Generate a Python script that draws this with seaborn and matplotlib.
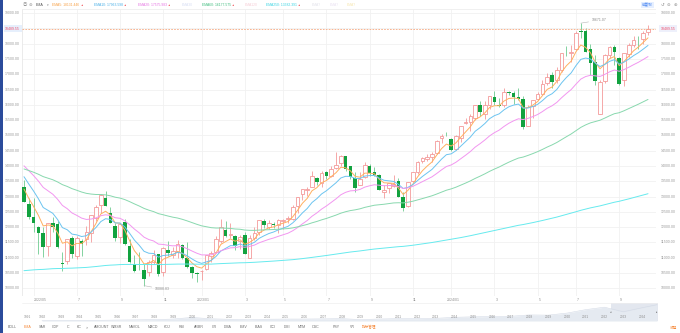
import numpy as np
import pandas as pd
import matplotlib
matplotlib.use("Agg")
import matplotlib.pyplot as plt
import seaborn as sns
from matplotlib.patches import Rectangle

sns.set_theme(style="white")
plt.rcParams['font.family'] = ['Liberation Sans', 'Noto Sans CJK SC', 'DejaVu Sans']

# ---------------- data (weekly candles, Monday dated) ----------------
first_week = "2022-04-18"
opens = [
    13319, 12767, 12329, 12012, 11802, 11382, 12125, 12102, 10830, 10907,
    11661, 11060, 11550, 11600, 11800, 12300, 12717, 12964, 12456, 12030,
    11680, 12177, 11390, 10790, 10658, 10600, 10550, 10866, 11119, 10523,
    11250, 11082, 11200, 11420, 11000, 10690, 10500,
    10562, 10636, 11057, 11180, 11545, 11910, 11740, 11700, 11550, 11740,
    11000, 11650, 11850, 12200, 12020, 12120, 12070, 12210, 12260, 12260,
    12700, 13100, 13230, 13300, 13620, 13460, 13810, 13680, 13950, 14100,
    14320, 13990, 13600, 13380, 13650, 14000, 13820, 13700, 13160, 13270,
    13350, 13500, 12980, 12700, 13500, 13800, 14150, 14240, 14290, 14420,
    14900, 15030,
    14870, 14560, 14930, 15400, 15440, 15580, 16000, 15700, 16000, 16270,
    16000, 15980, 16430, 16400, 16260, 16200, 15320, 15950, 16200, 16360,
    16700, 16990, 16810, 17140, 17710, 17700, 17830, 18400, 18430, 17810,
    17400, 15708, 16790, 17640, 17900, 17530, 16800, 17650, 17970, 18150,
    18150, 18380,
]
highs = [
    13559, 12950, 12968, 12047, 12006, 12150, 12320, 12212, 11188, 11612,
    11725, 11700, 11600, 12024, 12400, 12720, 13090, 13181, 12675, 12126,
    12128, 12270, 11603, 11088, 11176, 10800, 10940, 11250, 11138, 11365,
    11564, 11340, 11571, 11460, 11517, 10743, 10528,
    10608, 11100, 11223, 11700, 12269, 12200, 12150, 11730, 11730, 11830,
    11730, 12000, 12250, 12270, 12250, 12170, 12260, 12270, 12380, 12730,
    12990, 13260, 13300, 13830, 13650, 13840, 13830, 14000, 14450, 14360,
    14340, 14010, 13800, 13790, 14130, 14050, 13970, 13740, 13380, 13450,
    13720, 13600, 13150, 13480, 13800, 14160, 14290, 14400, 14470, 14850,
    15060, 15110,
    14900, 15020, 15320, 15580, 15700, 16000, 16110, 16130, 16300, 16450,
    16240, 16540, 16460, 16440, 16540, 16290, 16000, 16160, 16420, 16800,
    17030, 17060, 17230, 17700, 17940, 17960, 18400, 18671.07, 18520, 18000,
    17620, 16800, 17650, 17940, 17970, 17570, 17700, 18020, 18250, 18250,
    18420, 18600,
]
lows = [
    12832, 12280, 11857, 11108, 11035, 11068, 11827, 11335, 10565, 10794,
    10985, 10951, 11068, 11432, 11510, 12217, 12470, 12705, 12141, 11560,
    11481, 11408, 10817, 10546, 10595, 10088.83, 10390, 10799, 10393, 10394,
    11070, 11005, 10982, 10950, 10671, 10349, 10207,
    10265, 10600, 10855, 11152, 11499, 11690, 11660, 11260, 11300, 11130,
    10982, 11590, 11760, 11960, 11940, 11980, 11800, 11925, 12130, 12220,
    12470, 12880, 13010, 13300, 13380, 13310, 13580, 13630, 13900, 13990,
    13840, 13580, 13160, 13370, 13600, 13670, 13660, 13200, 12960, 13110,
    13300, 12980, 12543, 12660, 13470, 13750, 14100, 14150, 14140, 14400,
    14760, 14990,
    14477, 14540, 14790, 15360, 15150, 15500, 15640, 15550, 15860, 16000,
    15930, 15930, 16330, 16040, 16150, 15220, 15300, 15560, 16150, 16350,
    16650, 16560, 16700, 17060, 17600, 17410, 17800, 18200, 17720, 16990,
    16640, 15708, 16700, 17540, 17300, 16660, 16620, 17560, 17880, 17820,
    18000, 18300,
]
closes = [
    12839, 12334, 12144, 11805, 11354, 12131, 12012, 11340, 10798, 11607,
    11127, 11635, 11452, 11834, 12390, 12657, 13047, 12705, 12141, 11630,
    12112, 11448, 10867, 10575, 10652, 10321, 10859, 11102, 10475, 11323,
    11146, 11226, 11461, 11004, 10705, 10497, 10466,
    10569, 11079, 11140, 11621, 12006, 11718, 11787, 11394, 11689, 11138,
    11630, 11823, 12221, 12087, 12123, 12072, 12226, 12235, 12284, 12657,
    12975, 13240, 13259, 13689, 13492, 13787, 13660, 13918, 14032, 14316,
    13909, 13644, 13290, 13590, 14031, 13761, 13708, 13211, 13219, 13431,
    13407, 12983, 12643, 13478, 13798, 14125, 14250, 14305, 14403, 14813,
    14992, 15011,
    14524, 14972, 15310, 15455, 15628, 15990, 15775, 15996, 16274, 16085,
    15973, 16428, 16379, 16248, 16175, 15282, 15927, 16156, 16340, 16685,
    16920, 16735, 17133, 17688, 17689, 17732, 18352, 18398, 17726, 17357,
    16776, 16745, 17631, 17877, 17713, 16690, 17683, 17948, 18119, 18137,
    18342, 18489.55,
]
ema_periods = [5, 10, 20, 60, 250]
ema_seeds = [13450, 13830, 14130, 13940, 10560]      # EMA values just before the first candle
ema_names = ["EMA5", "EMA10", "EMA20", "EMA60", "EMA250"]
ema_legend_values = ["18131.446", "17963.598", "17575.983", "16177.575", "13382.391"]
last_price = 18489.55
y_ticks = list(range(10000, 19001, 500))
nav_years = list(range(1991, 2025))
nav_closes = [586, 677, 777, 752, 1052, 1291, 1570, 2193, 4069, 2471, 1950, 1336,
              2003, 2175, 2205, 2415, 2652, 1577, 2269, 2653, 2605, 3020, 4177,
              4736, 5007, 5383, 6903, 6635, 8973, 12888, 15645, 10466, 15011, 18489]
tabs = ["BOLL", "EMA", "SAR", "CDP", "IC", "KC", ">", "AMOUNT", "WMSR", "NAVOL", "MACD",
        "KDJ", "RSI", "ARBR", "CR", "DMA", "EMV", "BIAS", "CCI", "DMI", "MTM", "OSC",
        "PSY", "VR", "指标管理"]

# ---------------- frame ----------------
dates = pd.date_range(first_week, periods=len(closes), freq="W-MON")
df = pd.DataFrame({"date": dates, "open": opens, "high": highs, "low": lows, "close": closes})
df["i"] = np.arange(len(df))


def ema(values, period, seed):
    a = 2.0 / (period + 1)
    out, e = [], seed
    for v in values:
        e = a * v + (1 - a) * e
        out.append(e)
    return out


for n, p, s in zip(ema_names, ema_periods, ema_seeds):
    df[n] = ema(df["close"].tolist(), p, s)

W, H = 680, 333
fig = plt.figure(figsize=(W / 100, H / 100), dpi=100)
fig.patch.set_facecolor("white")


def fx(x):
    return x / W


def fy(y):
    return 1 - y / H


AX_L, AX_R, AX_T, AX_B = 22, 656, 9, 296
ax = fig.add_axes([fx(AX_L), fy(AX_B), (AX_R - AX_L) / W, (AX_B - AX_T) / H])
PXW = 4.8
X0 = 24
ax.set_xlim((AX_L - X0) / PXW, (AX_R - X0) / PXW)
PPU = 0.030583
ax.set_ylim(19000 - (AX_B - 13.1) / PPU, 19000 + (13.1 - AX_T) / PPU)
for s in ax.spines.values():
    s.set_visible(False)
ax.set_xticks([])
ax.set_yticks([])
ax.set_facecolor("white")

GRID = "#f1f1f1"
for v in y_ticks:
    ax.axhline(v, color=GRID, lw=0.6, zorder=0)

# month grid: first week whose Monday falls in an odd month (from May 2022)
month_pos, month_txt = [], []
prev = df["date"].iloc[0].month
for k, d in enumerate(df["date"]):
    if d.month != prev:
        prev = d.month
        if d.month % 2 == 1:
            month_pos.append(k)
            month_txt.append(f"{d.year}/{d.month:02d}" if (d.month == 1 or not month_txt) else str(d.month))
for k in month_pos:
    ax.axvline(k, color=GRID, lw=0.6, zorder=0)
ax.axvline(ax.get_xlim()[0], color="#e8e8e8", lw=0.6)
ax.axvline(ax.get_xlim()[1], color="#e8e8e8", lw=0.6)
ax.axhline(ax.get_ylim()[1], color="#eeeeee", lw=0.6)
ax.axhline(ax.get_ylim()[0], color="#eeeeee", lw=0.6)

# ---------------- candles ----------------
UP = "#f49a9a"
DOWN = "#12a23f"
DOWN_WICK = "#6fcb91"
up = df["close"] >= df["open"]
dn = ~up
ax.vlines(df["i"][up], df["low"][up], df["high"][up], color=UP, lw=0.6, zorder=2)
ax.vlines(df["i"][dn], df["low"][dn], df["high"][dn], color=DOWN_WICK, lw=0.6, zorder=2)
ax.bar(df["i"][up], (df["close"] - df["open"])[up], bottom=df["open"][up], width=0.74,
       facecolor="white", edgecolor=UP, linewidth=0.6, zorder=3)
ax.bar(df["i"][dn], (df["open"] - df["close"])[dn], bottom=df["close"][dn], width=0.74,
       color=DOWN, linewidth=0, zorder=3)

# ---------------- EMA lines ----------------
ema_colors = ["#ffb060", "#6cc4f0", "#f296f0", "#88d8ae", "#66eaee"]
for n, c in zip(ema_names, ema_colors):
    sns.lineplot(data=df, x="i", y=n, ax=ax, color=c, lw=0.7, zorder=4, legend=False)
ax.set_xlabel("")
ax.set_ylabel("")

# current price line
ax.axhline(last_price, color="#f5a77f", lw=0.6, ls=(0, (2, 1.5)), zorder=5)

# ---------------- axis labels ----------------
lx = (12.5 - AX_L) / (AX_R - AX_L)
rx = (668 - AX_L) / (AX_R - AX_L)
ytr = ax.get_yaxis_transform()
for v in y_ticks:
    if abs(v - last_price) < 300:
        continue
    for xx in (lx, rx):
        ax.text(xx, v, f"{v:.2f}", transform=ytr, ha="center", va="center",
                fontsize=2.5, color="#9a9a9a", clip_on=False)
for xx, bc in ((lx, "#e6effc"), (rx, "#eef0fb")):
    ax.text(xx, last_price, f"{last_price:.2f}", transform=ytr, ha="center", va="center",
            fontsize=2.5, color="#ef4d6a", clip_on=False,
            bbox=dict(boxstyle="square,pad=0.45", fc=bc, ec="none"))

xtr = ax.get_xaxis_transform()
ty = (AX_B - 300) / (AX_B - AX_T)
for k, t in zip(month_pos, month_txt):
    off = 6.5 / PXW if t == month_txt[0] else 2 / PXW
    ax.text(k + off, ty, t, transform=xtr, ha="center", va="center",
            fontsize=2.5, color="#8c8c8c", clip_on=False)

# extreme annotations
hi = df.loc[df["high"].idxmax()]
lo = df.loc[df["low"].idxmin()]
ax.annotate(f"{hi['high']:.2f}", xy=(hi["i"], hi["high"]),
            xytext=(hi["i"] + 2.3, hi["high"] + 3.0 / PPU), fontsize=2.5, color="#8a8a8a",
            ha="left", va="center", arrowprops=dict(arrowstyle="-", color="#b5b5b5", lw=0.4,
                                                    shrinkA=0, shrinkB=0))
ax.annotate(f"{lo['low']:.2f}", xy=(lo["i"], lo["low"]),
            xytext=(lo["i"] + 2.3, lo["low"] - 3.4 / PPU), fontsize=2.5, color="#8a8a8a",
            ha="left", va="center", arrowprops=dict(arrowstyle="-", color="#b5b5b5", lw=0.4,
                                                    shrinkA=0, shrinkB=0))

# ---------------- top legend row ----------------
LY = fy(5)
fig.text(fx(24.5), LY, "◎", fontsize=3.2, color="#9a9a9a", ha="center", va="center")
fig.text(fx(30.5), LY, "⊜", fontsize=3.2, color="#9a9a9a", ha="center", va="center")
fig.text(fx(40), LY, "EMA", fontsize=2.6, color="#555555", ha="center", va="center")
fig.text(fx(48), LY, "▾", fontsize=2.4, color="#888888", ha="center", va="center")
legend_x = [52, 94, 138, 202, 266]
renderer = fig.canvas.get_renderer()
for n, val, c, x0 in zip(ema_names, ema_legend_values,
                         ["#f7a045", "#48aee6", "#e572e2", "#3dbb7c", "#35d3e2"], legend_x):
    t = fig.text(fx(x0), LY, f"{n}: {val}", fontsize=2.4, color=c, ha="left", va="center")
    end_px = t.get_window_extent(renderer).x1
    fig.text((end_px + 2.2) / W, LY, "▲", fontsize=1.8, color="#f0484f", ha="center", va="center")
for t, x0, c in [("EMA30", 182, "#d6ddf3"), ("EMA120", 245, "#f6cdd6"), ("EMA?", 312, "#e2e2ea"),
                 ("EMA?", 330, "#e9e1f2"), ("EMA?", 347, "#f6e6b0")]:
    fig.text(fx(x0), LY, t, fontsize=2.4, color=c, ha="left", va="center")
fig.text(fx(647.5), LY, "前复权", fontsize=2.6, color="#3f7ff0", ha="center", va="center",
         bbox=dict(boxstyle="square,pad=0.3", fc="#e6efff", ec="none"))
for x0, g in [(662, "↺"), (668.5, "⊖"), (675, "⊕")]:
    fig.text(fx(x0), LY, g, fontsize=3.2, color="#9a9a9a", ha="center", va="center",
             family="DejaVu Sans")

# ---------------- navigator ----------------
NL, NR, NT, NB = 22, 658, 303, 321
nav = fig.add_axes([fx(NL), fy(NB), (NR - NL) / W, (NB - NT) / H])
nav.set_xlim(NL, NR)
nav.set_ylim(0, max(nav_closes) * 18 / 16.3)
for s in nav.spines.values():
    s.set_visible(False)
nav.set_xticks([])
nav.set_yticks([])
YX0, YSTEP = 42, 18.75
year_start_x = [YX0 + (y - 1992) * YSTEP for y in nav_years]
close_x = [x + YSTEP for x in year_start_x]
close_x[-1] = year_start_x[-1] + YSTEP * 0.8
nav_df = pd.DataFrame({"x": close_x, "v": nav_closes})
nav.fill_between(nav_df["x"], nav_df["v"], color="#e5eaf1", lw=0, zorder=1)
sns.lineplot(data=nav_df, x="x", y="v", ax=nav, color="#d3dae6", lw=0.4, zorder=2)
nav.set_xlabel("")
nav.set_ylabel("")
nav.axhline(nav.get_ylim()[1], color="#eeeeee", lw=0.5)
nav.axhline(0, color="#e2e2e2", lw=0.5)
nav.add_patch(Rectangle((611, 0), NR - 611, nav.get_ylim()[1], fc="#ccd5e3", ec="none", alpha=0.55, zorder=0))
for xh, g in ((611, "◂"), (657, "▸")):
    nav.text(xh, nav.get_ylim()[1] * 0.5, g, fontsize=2, color="#666666", ha="center", va="center")
for yr, xs in zip(nav_years, year_start_x):
    xx = max(xs, 27)
    nav.text(xx, nav.get_ylim()[1] * 0.22, str(yr), fontsize=2.3, color="#8c8c8c",
             ha="center", va="center", zorder=3)

# ---------------- bottom indicator tabs ----------------
tab_x = [12, 28, 43, 56, 68, 79, 87, 102, 117, 135, 153, 167, 182, 199, 214, 228, 244, 259,
         273, 287, 302, 316, 336, 352, 369]
for t, x0 in zip(tabs, tab_x):
    col = "#f58a3c" if t in ("EMA", "指标管理") else "#6e6e6e"
    fig.text(fx(x0), fy(327.5), t, fontsize=2.6, color=col, ha="center", va="center")
fig.text(fx(673), fy(327.5), "收起", fontsize=2.6, color="#f58a3c", ha="center", va="center")

# left window edge strip
fig.patches.append(Rectangle((0, 0), fx(2.5), 1, transform=fig.transFigure, fc="#2b4b9b", ec="none"))

fig.savefig("out.png", dpi=100, facecolor="white")
